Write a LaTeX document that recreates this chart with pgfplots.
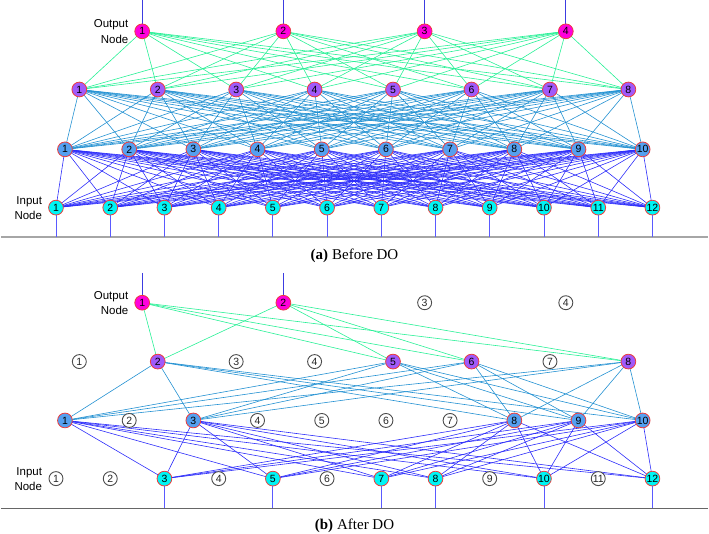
\documentclass[border=0pt]{standalone}
\usepackage{fontspec}
\setmainfont{Liberation Serif}
\newfontfamily\arial{Liberation Sans}
\usepackage{pgfplots}
\pgfplotsset{compat=1.18}

\definecolor{cIn}{RGB}{0,245,245}
\definecolor{cHa}{RGB}{85,160,240}
\definecolor{cHb}{RGB}{160,90,250}
\definecolor{cOut}{RGB}{255,0,220}
\definecolor{cRing}{RGB}{235,60,60}
\definecolor{eIn}{RGB}{45,45,250}
\definecolor{eHid}{RGB}{35,145,210}
\definecolor{eOut}{RGB}{40,240,150}
\definecolor{sTop}{RGB}{60,60,225}
\definecolor{sBot}{RGB}{90,90,255}

% node x positions (pixels)
\def\XI{55.3,109.7,164,218.4,272.7,327,381.4,435.7,490,544.4,598.8,653.1}
\def\XH{64.3,128.7,193,257.3,321.7,386,450.3,514.7,579,643.3}
\def\XG{78.7,157.3,235.9,314.5,393.1,471.8,550.4,629}
\def\XO{141.7,283.2,424.8,566.3}
% kept after dropout
\def\KI{164,272.7,381.4,435.7,544.4,653.1}
\def\KH{64.3,193,514.7,579,643.3}
\def\KG{157.3,393.1,471.8,629}
\def\KO{141.7,283.2}

\pgfplotsset{
  panel/.style={width=709pt,height=269pt,scale only axis,
    xmin=0,xmax=709,ymin=0,ymax=269,y dir=reverse,hide axis,clip=false},
  eA/.style={color=eIn,line width=0.6pt,forget plot},
  eB/.style={color=eHid,line width=0.6pt,forget plot},
  eC/.style={color=eOut,line width=0.6pt,forget plot},
  netnode/.style={only marks,mark=*,mark size=7.4pt,
    mark options={draw=cRing,line width=0.8pt,fill=#1},
    nodes near coords,point meta=explicit symbolic,
    nodes near coords align={anchor=center},
    every node near coord/.append style={font=\arial\fontsize{10.5}{11}\selectfont,inner sep=0pt,text=black}},
  dropnode/.style={only marks,mark=*,mark size=7pt,
    mark options={draw=black!70,line width=0.9pt,fill=white},
    nodes near coords,point meta=explicit symbolic,
    nodes near coords align={anchor=center},
    every node near coord/.append style={font=\arial\fontsize{10.5}{11}\selectfont,inner sep=0pt,text=black!85}},
}

\begin{document}
\begin{tikzpicture}
%================ (a) Before DO ================
\begin{axis}[panel,at={(0,269pt)},anchor=south west]
  % base line
  \addplot[color=black!35,line width=1.6pt,forget plot] coordinates {(0,237.3) (709,237.3)};
  % input stubs
  \foreach \a in \XI {\edef\tmp{\noexpand\addplot[color=sBot,line width=0.8pt,forget plot] coordinates {(\a,207.7) (\a,237.3)};}\tmp}
  % output stubs
  \foreach \a in \XO {\edef\tmp{\noexpand\addplot[color=sTop,line width=0.8pt,forget plot] coordinates {(\a,0) (\a,31)};}\tmp}
  % edges
  \foreach \a in \XI {\foreach \b in \XH {\edef\tmp{\noexpand\addplot[eA] coordinates {(\a,207.7) (\b,149.3)};}\tmp}}
  \foreach \a in \XH {\foreach \b in \XG {\edef\tmp{\noexpand\addplot[eB] coordinates {(\a,149.3) (\b,89.3)};}\tmp}}
  \foreach \a in \XG {\foreach \b in \XO {\edef\tmp{\noexpand\addplot[eC] coordinates {(\a,89.3) (\b,31)};}\tmp}}
  % nodes
  \addplot[netnode=cIn] table[meta=t,row sep=\\] {x y t\\
    55.3 207.7 1\\ 109.7 207.7 2\\ 164 207.7 3\\ 218.4 207.7 4\\ 272.7 207.7 5\\ 327 207.7 6\\
    381.4 207.7 7\\ 435.7 207.7 8\\ 490 207.7 9\\ 544.4 207.7 10\\ 598.8 207.7 11\\ 653.1 207.7 12\\};
  \addplot[netnode=cHa] table[meta=t,row sep=\\] {x y t\\
    64.3 149.3 1\\ 128.7 149.3 2\\ 193 149.3 3\\ 257.3 149.3 4\\ 321.7 149.3 5\\
    386 149.3 6\\ 450.3 149.3 7\\ 514.7 149.3 8\\ 579 149.3 9\\ 643.3 149.3 10\\};
  \addplot[netnode=cHb] table[meta=t,row sep=\\] {x y t\\
    78.7 89.3 1\\ 157.3 89.3 2\\ 235.9 89.3 3\\ 314.5 89.3 4\\ 393.1 89.3 5\\
    471.8 89.3 6\\ 550.4 89.3 7\\ 629 89.3 8\\};
  \addplot[netnode=cOut] table[meta=t,row sep=\\] {x y t\\
    141.7 31 1\\ 283.2 31 2\\ 424.8 31 3\\ 566.3 31 4\\};
  % labels
  \node[anchor=east,align=right,font=\arial\fontsize{11.5}{15.5}\selectfont,inner sep=0pt] at (axis cs:128,31) {Output\\Node};
  \node[anchor=east,align=right,font=\arial\fontsize{11.5}{15.5}\selectfont,inner sep=0pt] at (axis cs:41.5,208) {Input\\Node};
  \node[font=\fontsize{15}{17}\selectfont,inner sep=0pt] at (axis cs:354.5,256) {\textbf{(a)}\hspace{4pt}Before DO};
\end{axis}
%================ (b) After DO ================
\begin{axis}[panel,at={(0,0)},anchor=south west]
  \addplot[color=black!60,line width=0.8pt,forget plot] coordinates {(0,240) (709,240)};
  \foreach \a in \KI {\edef\tmp{\noexpand\addplot[color=sBot,line width=0.8pt,forget plot] coordinates {(\a,210.3) (\a,240)};}\tmp}
  \foreach \a in \KO {\edef\tmp{\noexpand\addplot[color=sTop,line width=0.8pt,forget plot] coordinates {(\a,4) (\a,34)};}\tmp}
  \foreach \a in \KI {\foreach \b in \KH {\edef\tmp{\noexpand\addplot[eA] coordinates {(\a,210.3) (\b,152)};}\tmp}}
  \foreach \a in \KH {\foreach \b in \KG {\edef\tmp{\noexpand\addplot[eB] coordinates {(\a,152) (\b,93)};}\tmp}}
  \foreach \a in \KG {\foreach \b in \KO {\edef\tmp{\noexpand\addplot[eC] coordinates {(\a,93) (\b,34)};}\tmp}}
  % dropped nodes
  \addplot[dropnode] table[meta=t,row sep=\\] {x y t\\
    55.3 210.3 1\\ 109.7 210.3 2\\ 218.4 210.3 4\\ 327 210.3 6\\ 490 210.3 9\\ 598.8 210.3 11\\
    128.7 152 2\\ 257.3 152 4\\ 321.7 152 5\\ 386 152 6\\ 450.3 152 7\\
    78.7 93 1\\ 235.9 93 3\\ 314.5 93 4\\ 550.4 93 7\\
    424.8 34 3\\ 566.3 34 4\\};
  % kept nodes
  \addplot[netnode=cIn] table[meta=t,row sep=\\] {x y t\\
    164 210.3 3\\ 272.7 210.3 5\\ 381.4 210.3 7\\ 435.7 210.3 8\\ 544.4 210.3 10\\ 653.1 210.3 12\\};
  \addplot[netnode=cHa] table[meta=t,row sep=\\] {x y t\\
    64.3 152 1\\ 193 152 3\\ 514.7 152 8\\ 579 152 9\\ 643.3 152 10\\};
  \addplot[netnode=cHb] table[meta=t,row sep=\\] {x y t\\
    157.3 93 2\\ 393.1 93 5\\ 471.8 93 6\\ 629 93 8\\};
  \addplot[netnode=cOut] table[meta=t,row sep=\\] {x y t\\
    141.7 34 1\\ 283.2 34 2\\};
  \node[anchor=east,align=right,font=\arial\fontsize{11.5}{15.5}\selectfont,inner sep=0pt] at (axis cs:128,34.5) {Output\\Node};
  \node[anchor=east,align=right,font=\arial\fontsize{11.5}{15.5}\selectfont,inner sep=0pt] at (axis cs:41.5,211) {Input\\Node};
  \node[font=\fontsize{15}{17}\selectfont,inner sep=0pt] at (axis cs:354.5,258) {\textbf{(b)}\hspace{4pt}After DO};
\end{axis}
\end{tikzpicture}
\end{document}
